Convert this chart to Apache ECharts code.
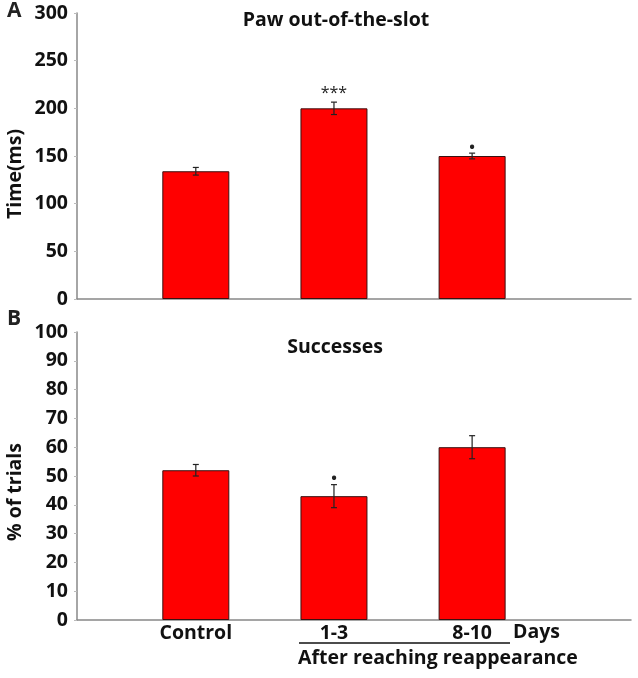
<!DOCTYPE html>
<html><head><meta charset="utf-8">
<script src="https://cdn.jsdelivr.net/npm/echarts@6/dist/echarts.min.js"></script>
<style>html,body{margin:0;padding:0;background:#fff}#c{width:638px;height:678px}</style>
</head><body><div id="c"></div>
<script>
const categories = ['Control', '1-3', '8-10'];
const positions = [1, 2, 3];
const pawMeans = [134, 200, 150];
const pawErrors = [4, 6.5, 3];
const pawMarks = ['', '***', '•'];
const succMeans = [52, 43, 60];
const succErrors = [2, 4, 4];
const succMarks = ['', '•', ''];
const pawAxis = {min: 0, max: 300, interval: 50};
const succAxis = {min: 0, max: 100, interval: 10};

const FONT = 'Open Sans';
const FS = 19.5;
const chart = echarts.init(document.getElementById('c'), null, {renderer: 'canvas'});

function barData(means) { return positions.map((p, i) => [p, means[i]]); }
function errData(means, errs) { return positions.map((p, i) => [p, means[i], errs[i]]); }

function errRender(params, api) {
  const x = api.value(0), m = api.value(1), e = api.value(2);
  const t = api.coord([x, m + e]), b = api.coord([x, m - e]);
  const hw = 3;
  const st = {stroke: '#222', lineWidth: 1.2};
  return {type: 'group', children: [
    {type: 'line', shape: {x1: t[0], y1: t[1], x2: b[0], y2: b[1]}, style: st},
    {type: 'line', shape: {x1: t[0] - hw, y1: t[1], x2: t[0] + hw, y2: t[1]}, style: st},
    {type: 'line', shape: {x1: b[0] - hw, y1: b[1], x2: b[0] + hw, y2: b[1]}, style: st}
  ]};
}
function makeMarkRender(marks) {
  return function (params, api) {
    const mk = marks[params.dataIndex];
    if (!mk) return null;
    const x = api.value(0), m = api.value(1), e = api.value(2);
    const t = api.coord([x, m + e]);
    const isStar = mk.indexOf('*') >= 0;
    return {type: 'text', x: t[0], y: t[1] - (isStar ? 1 : -2),
      style: {text: mk, fill: '#222', font: (isStar ? '16px ' : 'bold 15px ') + FONT, align: 'center', verticalAlign: 'bottom'}};
  };
}

function yAxisCfg(idx, cfg) {
  return {
    type: 'value', gridIndex: idx, min: cfg.min, max: cfg.max, interval: cfg.interval,
    axisLine: {show: true, lineStyle: {color: '#888', width: 1.5}},
    axisTick: {show: true, length: 3, lineStyle: {color: '#bbb'}},
    splitLine: {show: false},
    axisLabel: {fontFamily: FONT, fontWeight: 'bold', fontSize: FS, color: '#111', margin: 9}
  };
}
function xAxisCfg(idx, showLabels) {
  return {
    type: 'value', gridIndex: idx, min: 0.14, max: 4.15,
    axisLine: {show: true, onZero: false, lineStyle: {color: '#888', width: 1.5}},
    axisTick: {show: false}, splitLine: {show: false},
    axisLabel: showLabels ? {
      show: true, customValues: positions, margin: 3,
      formatter: v => categories[positions.indexOf(v)] || '',
      fontFamily: FONT, fontWeight: 'bold', fontSize: FS, color: '#111'
    } : {show: false}
  };
}

const option = {
  animation: false,
  backgroundColor: '#fff',
  grid: [
    {left: 77, right: 7, top: 13, height: 286},
    {left: 77, right: 7, top: 332, height: 288}
  ],
  xAxis: [xAxisCfg(0, false), xAxisCfg(1, true)],
  yAxis: [yAxisCfg(0, pawAxis), yAxisCfg(1, succAxis)],
  series: [
    {type: 'bar', xAxisIndex: 0, yAxisIndex: 0, data: barData(pawMeans), barWidth: 67,
     itemStyle: {color: '#ff0000', borderColor: '#3a1010', borderWidth: 1}},
    {type: 'bar', xAxisIndex: 1, yAxisIndex: 1, data: barData(succMeans), barWidth: 67,
     itemStyle: {color: '#ff0000', borderColor: '#3a1010', borderWidth: 1}},
    {type: 'custom', xAxisIndex: 0, yAxisIndex: 0, data: errData(pawMeans, pawErrors), renderItem: errRender, z: 5},
    {type: 'custom', xAxisIndex: 1, yAxisIndex: 1, data: errData(succMeans, succErrors), renderItem: errRender, z: 5},
    {type: 'custom', xAxisIndex: 0, yAxisIndex: 0, data: errData(pawMeans, pawErrors), renderItem: makeMarkRender(pawMarks), z: 6},
    {type: 'custom', xAxisIndex: 1, yAxisIndex: 1, data: errData(succMeans, succErrors), renderItem: makeMarkRender(succMarks), z: 6}
  ],
  graphic: [
    {type: 'text', left: 7, top: 1, style: {text: 'A', font: 'bold 21px ' + FONT, fill: '#222'}},
    {type: 'text', left: 7, top: 309, style: {text: 'B', font: 'bold 21px ' + FONT, fill: '#222'}},
    {type: 'text', x: 336, y: 20, style: {text: 'Paw out-of-the-slot', font: 'bold 19.5px ' + FONT, fill: '#111', align: 'center', verticalAlign: 'middle'}},
    {type: 'text', x: 335, y: 347, style: {text: 'Successes', font: 'bold 19.5px ' + FONT, fill: '#111', align: 'center', verticalAlign: 'middle'}},
    {type: 'text', x: 15, y: 174, rotation: Math.PI / 2, style: {text: 'Time(ms)', font: 'bold 19.5px ' + FONT, fill: '#111', align: 'center', verticalAlign: 'middle'}},
    {type: 'text', x: 15, y: 492, rotation: Math.PI / 2, style: {text: '% of trials', font: 'bold 19.5px ' + FONT, fill: '#111', align: 'center', verticalAlign: 'middle'}},
    {type: 'text', x: 513, y: 632, style: {text: 'Days', font: 'bold 19.5px ' + FONT, fill: '#111', align: 'left', verticalAlign: 'middle'}},
    {type: 'line', shape: {x1: 299, y1: 643, x2: 510, y2: 643}, style: {stroke: '#111', lineWidth: 1.5}},
    {type: 'text', x: 298, y: 658, style: {text: 'After reaching reappearance', font: 'bold 19.5px ' + FONT, fill: '#111', align: 'left', verticalAlign: 'middle'}}
  ]
};
chart.setOption(option);
</script>
</body></html>
